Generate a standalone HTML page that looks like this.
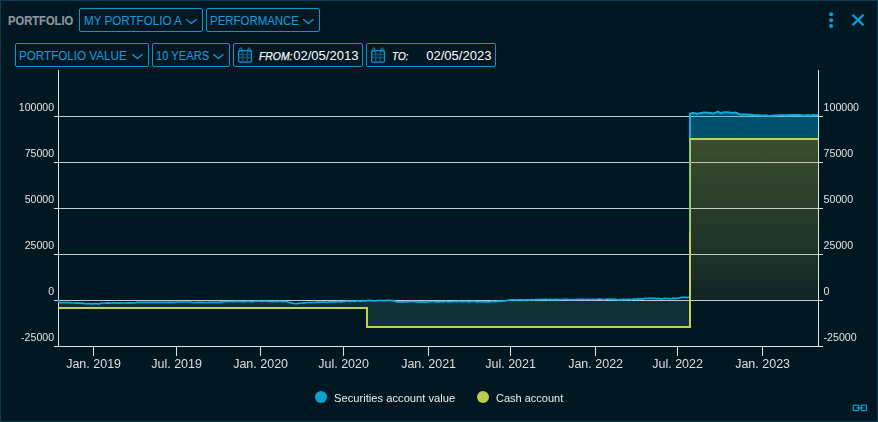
<!DOCTYPE html>
<html><head><meta charset="utf-8"><title>Portfolio</title>
<style>
html,body{margin:0;padding:0;background:#011721;}
body{width:878px;height:422px;overflow:hidden;font-family:"Liberation Sans",sans-serif;}
.panel{position:relative;width:878px;height:422px;box-sizing:border-box;border:1px solid #0b3c50;background:#011721;overflow:hidden;}
.abs{position:absolute;left:-1px;top:-1px;width:878px;height:422px;}
.t{position:absolute;white-space:pre;line-height:1;transform-origin:0 50%;display:inline-block;}
.title{color:#8f9499;font-weight:bold;-webkit-text-stroke:0.2px #8f9499;}
.dd{color:#1a99d5;-webkit-text-stroke:0.1px #1a99d5;}
.lbl{color:#f6f6f6;font-style:italic;font-weight:normal;-webkit-text-stroke:0.25px #f6f6f6;}
.date{color:#ffffff;}
.leg{color:#eeeeee;}
.box{position:absolute;box-sizing:border-box;border:1px solid #0f93cb;border-radius:2px;height:24px;}
.ic{position:absolute;overflow:visible;}
.chart{position:absolute;left:0;top:68px;will-change:transform;}
.legend{position:absolute;left:300px;top:384px;width:280px;height:26px;will-change:transform;}
.dot{position:absolute;width:12px;height:12px;border-radius:50%;}
</style></head>
<body>
<div class="panel"><div class="abs">
<svg class="chart" width="878" height="312" viewBox="0 68 878 312"><defs><linearGradient id="gy" x1="0" y1="139" x2="0" y2="300.5" gradientUnits="userSpaceOnUse"><stop offset="0" stop-color="#c4d24f" stop-opacity="0.30"/><stop offset="1" stop-color="#c4d24f" stop-opacity="0.085"/></linearGradient></defs><g stroke="#c3cbd1" stroke-width="1" shape-rendering="crispEdges"><line x1="54" y1="116.5" x2="823" y2="116.5"/><line x1="54" y1="162.5" x2="823" y2="162.5"/><line x1="54" y1="208.5" x2="823" y2="208.5"/><line x1="54" y1="254.5" x2="823" y2="254.5"/><line x1="54" y1="300.5" x2="823" y2="300.5"/></g><clipPath id="cn"><rect x="58" y="301" width="633" height="28"/></clipPath><path d="M58.5,299.6 L59.0,302.6 L60.8,302.6 L62.7,302.6 L64.5,302.7 L66.3,302.6 L68.2,302.7 L70.0,302.7 L72.0,303.0 L73.8,303.0 L75.7,302.9 L77.5,303.1 L79.3,303.0 L81.2,303.1 L83.0,303.1 L84.5,303.7 L86.2,303.6 L87.9,303.6 L89.7,303.7 L91.4,303.8 L93.1,303.6 L94.8,303.6 L96.6,303.7 L98.3,303.8 L100.0,303.7 L101.5,303.0 L103.2,303.0 L104.8,303.0 L106.5,303.1 L108.2,302.9 L109.9,303.1 L111.5,303.0 L113.2,302.9 L114.9,302.9 L116.6,303.0 L118.2,303.1 L119.9,302.9 L121.6,303.0 L123.3,303.0 L125.0,303.0 L126.6,303.0 L128.3,302.9 L130.0,302.9 L131.7,302.9 L133.3,303.0 L135.0,303.0 L137.0,302.4 L138.7,302.4 L140.3,302.4 L142.0,302.4 L143.6,302.4 L145.3,302.3 L146.9,302.4 L148.6,302.4 L150.2,302.3 L151.9,302.4 L153.5,302.4 L155.2,302.4 L156.8,302.4 L158.5,302.3 L160.1,302.4 L161.8,302.3 L163.4,302.3 L165.1,302.4 L166.7,302.3 L168.4,302.3 L170.0,302.2 L171.7,302.3 L173.3,302.4 L175.0,302.3 L177.0,302.0 L178.6,302.0 L180.2,302.1 L181.9,302.0 L183.5,302.0 L185.1,302.0 L186.8,302.0 L188.4,302.0 L190.0,302.0 L192.0,302.4 L193.6,302.5 L195.3,302.5 L196.9,302.4 L198.6,302.4 L200.2,302.3 L201.9,302.4 L203.5,302.4 L205.2,302.5 L206.8,302.5 L208.5,302.4 L210.1,302.4 L211.8,302.4 L213.4,302.3 L215.1,302.4 L216.7,302.3 L218.4,302.3 L220.0,302.4 L223.0,301.7 L224.7,301.6 L226.4,301.7 L228.1,301.5 L229.8,301.5 L231.5,301.5 L233.2,301.6 L234.9,301.4 L236.6,301.4 L238.3,301.5 L240.0,301.4 L241.6,301.6 L243.2,301.6 L244.8,301.6 L246.4,301.2 L248.0,301.3 L249.6,301.3 L251.2,301.6 L252.9,301.7 L254.5,301.1 L256.1,301.2 L257.7,301.2 L259.3,301.2 L260.9,301.3 L262.5,301.4 L264.1,301.2 L265.7,301.0 L267.3,301.3 L268.9,301.3 L270.5,301.4 L272.1,301.6 L273.8,301.4 L275.4,301.3 L277.0,301.4 L278.6,301.4 L280.2,301.0 L281.8,301.6 L283.4,301.5 L285.0,301.3 L288.0,302.0 L290.0,302.7 L292.0,302.9 L294.0,303.5 L296.0,303.7 L298.0,303.4 L300.0,303.2 L302.0,303.0 L303.6,302.7 L305.2,303.0 L306.9,302.5 L308.5,302.5 L310.1,302.5 L311.8,302.4 L313.4,302.5 L315.0,302.5 L316.7,302.2 L318.3,302.1 L320.0,302.1 L321.7,302.0 L323.3,302.1 L325.0,301.8 L326.7,302.3 L328.3,302.1 L330.0,301.8 L331.7,301.8 L333.3,301.8 L335.0,301.8 L336.7,301.7 L338.3,301.4 L340.0,301.9 L341.7,301.9 L343.3,301.5 L345.0,301.5 L346.7,301.1 L348.3,301.1 L350.0,301.3 L351.7,301.2 L353.3,301.1 L355.0,301.4 L356.7,300.9 L358.3,300.8 L360.0,301.3 L361.7,301.0 L363.3,300.7 L365.0,300.9 L366.7,300.8 L368.3,300.4 L370.0,300.6 L371.6,300.6 L373.3,300.9 L374.9,300.8 L376.6,300.7 L378.2,300.4 L379.9,300.5 L381.5,300.3 L383.1,300.7 L384.8,300.6 L386.4,300.7 L388.1,300.4 L389.7,300.3 L391.4,300.7 L393.0,300.5 L396.0,301.6 L397.6,301.9 L399.2,301.9 L400.8,301.9 L402.4,301.9 L404.0,301.9 L405.6,301.5 L407.2,301.8 L408.8,301.7 L410.4,301.5 L412.0,301.5 L413.6,301.7 L415.2,301.7 L416.8,302.0 L418.4,302.2 L420.0,301.9 L421.6,301.8 L423.2,302.1 L424.8,302.2 L426.4,302.1 L428.0,301.7 L429.6,301.6 L431.2,301.6 L432.8,301.5 L434.4,301.5 L436.0,301.8 L437.6,301.9 L439.2,301.9 L440.8,301.6 L442.4,301.7 L444.0,301.8 L445.6,301.3 L447.2,301.7 L448.8,301.8 L450.4,301.7 L452.0,301.7 L453.6,301.5 L455.2,301.3 L456.8,301.6 L458.4,301.3 L460.0,301.4 L461.7,301.6 L463.3,301.7 L465.0,301.4 L466.7,301.4 L468.3,301.8 L470.0,301.7 L471.7,301.3 L473.3,301.3 L475.0,301.4 L476.7,301.9 L478.3,301.8 L480.0,301.4 L481.7,301.9 L483.3,302.0 L485.0,301.8 L486.7,301.7 L488.3,301.8 L490.0,301.8 L491.7,301.4 L493.3,301.2 L495.0,301.7 L496.7,301.4 L498.3,301.2 L500.0,301.0 L501.7,301.1 L503.3,300.7 L505.0,300.8 L506.7,300.6 L508.3,300.1 L510.0,300.1 L511.7,299.9 L513.3,299.9 L515.0,299.9 L516.7,300.0 L518.3,299.8 L520.0,299.9 L521.7,299.7 L523.3,300.1 L525.0,299.8 L526.7,299.8 L528.3,299.9 L530.0,300.0 L531.7,299.7 L533.3,300.0 L535.0,299.7 L536.6,299.7 L538.2,299.7 L539.8,299.7 L541.4,299.3 L543.0,299.6 L544.6,299.4 L546.2,299.3 L547.9,299.8 L549.5,299.4 L551.1,299.6 L552.7,299.7 L554.3,299.6 L555.9,299.4 L557.5,299.6 L559.1,299.6 L560.7,299.7 L562.3,299.3 L563.9,299.5 L565.5,299.3 L567.1,299.3 L568.8,299.6 L570.4,299.5 L572.0,299.5 L573.6,299.6 L575.2,299.7 L576.8,299.4 L578.4,299.5 L580.0,299.4 L581.7,299.4 L583.3,299.4 L585.0,299.5 L586.7,299.3 L588.3,299.3 L590.0,299.3 L591.7,299.6 L593.3,299.4 L595.0,299.5 L596.7,299.5 L598.3,299.1 L600.0,299.2 L601.7,299.3 L603.3,299.6 L605.0,299.5 L606.7,299.1 L608.3,299.2 L610.0,299.4 L611.7,299.2 L613.3,299.4 L615.0,299.3 L616.7,299.7 L618.3,299.8 L620.0,299.7 L621.7,299.9 L623.3,299.4 L625.0,299.7 L626.7,299.6 L628.3,299.2 L630.0,299.6 L631.7,299.6 L633.3,299.1 L635.0,299.2 L636.7,299.4 L638.3,298.9 L640.0,298.9 L641.7,299.1 L643.3,298.9 L645.0,298.4 L646.7,298.5 L648.3,298.4 L650.0,298.3 L651.7,298.3 L653.3,298.3 L655.0,298.4 L656.7,298.8 L658.3,298.4 L660.0,298.8 L661.7,298.8 L663.4,298.7 L665.1,298.4 L666.9,298.5 L668.6,298.7 L670.3,298.6 L672.0,298.5 L673.6,298.1 L675.2,298.5 L676.8,298.3 L678.4,298.2 L680.0,297.8 L681.6,297.4 L683.2,297.4 L684.8,297.2 L686.4,297.6 L688.0,297.3 L690.0,297.1 L690,327 L367,327 L367,308 L58.5,308 Z" fill="#0f3136" clip-path="url(#cn)"/><path d="M690,139 L818,139 L818,300.5 L690,300.5 Z" fill="url(#gy)"/><path d="M690.0,113.6 L691.5,113.2 L693.0,112.9 L695.0,113.3 L697.0,114.0 L699.0,113.4 L701.0,112.9 L702.5,112.8 L704.0,112.4 L705.7,112.7 L707.3,112.6 L709.0,112.9 L710.6,112.9 L712.1,113.4 L713.7,113.4 L715.7,112.6 L717.7,111.7 L719.3,112.5 L720.9,113.2 L722.9,112.5 L724.9,112.2 L726.5,112.2 L728.1,112.5 L729.7,112.6 L731.2,112.7 L732.8,112.9 L735.2,112.4 L737.2,113.1 L739.2,114.2 L740.8,114.4 L742.4,114.4 L744.0,114.5 L745.6,114.4 L747.2,114.4 L748.8,114.8 L750.4,114.8 L751.9,114.8 L753.5,115.3 L755.0,115.3 L756.8,115.3 L758.5,115.3 L760.2,115.4 L762.0,115.4 L763.6,115.7 L765.2,115.5 L766.8,115.6 L768.4,115.9 L770.0,116.0 L771.8,115.7 L773.5,115.5 L775.2,115.4 L777.0,115.4 L778.6,115.2 L780.2,115.2 L781.8,115.3 L783.4,115.2 L785.0,115.3 L786.7,115.4 L788.3,115.1 L790.0,115.2 L791.7,115.0 L793.3,115.1 L795.0,115.1 L796.7,115.0 L798.3,115.1 L800.0,115.1 L801.7,115.4 L803.3,115.4 L805.0,115.4 L806.8,115.2 L808.5,115.3 L810.2,115.4 L812.0,115.2 L813.5,115.0 L815.0,115.3 L816.5,115.2 L818.0,115.2 L818,139 L690,139 Z" fill="#00a8de" fill-opacity="0.4"/><g stroke="#dde2e6" stroke-width="1" shape-rendering="crispEdges"><line x1="58.5" y1="70" x2="58.5" y2="347"/><line x1="818.5" y1="70" x2="818.5" y2="347"/><line x1="54" y1="346.5" x2="823" y2="346.5"/><line x1="54" y1="116.5" x2="58" y2="116.5"/><line x1="819" y1="116.5" x2="823" y2="116.5"/><line x1="54" y1="162.5" x2="58" y2="162.5"/><line x1="819" y1="162.5" x2="823" y2="162.5"/><line x1="54" y1="208.5" x2="58" y2="208.5"/><line x1="819" y1="208.5" x2="823" y2="208.5"/><line x1="54" y1="254.5" x2="58" y2="254.5"/><line x1="819" y1="254.5" x2="823" y2="254.5"/><line x1="54" y1="300.5" x2="58" y2="300.5"/><line x1="819" y1="300.5" x2="823" y2="300.5"/><line x1="93.5" y1="347" x2="93.5" y2="356"/><line x1="176.5" y1="347" x2="176.5" y2="356"/><line x1="260.5" y1="347" x2="260.5" y2="356"/><line x1="343.5" y1="347" x2="343.5" y2="356"/><line x1="428.5" y1="347" x2="428.5" y2="356"/><line x1="510.5" y1="347" x2="510.5" y2="356"/><line x1="595.5" y1="347" x2="595.5" y2="356"/><line x1="677.5" y1="347" x2="677.5" y2="356"/><line x1="762.5" y1="347" x2="762.5" y2="356"/></g><path d="M58.5,299.6 L59.0,302.6 L60.8,302.6 L62.7,302.6 L64.5,302.7 L66.3,302.6 L68.2,302.7 L70.0,302.7 L72.0,303.0 L73.8,303.0 L75.7,302.9 L77.5,303.1 L79.3,303.0 L81.2,303.1 L83.0,303.1 L84.5,303.7 L86.2,303.6 L87.9,303.6 L89.7,303.7 L91.4,303.8 L93.1,303.6 L94.8,303.6 L96.6,303.7 L98.3,303.8 L100.0,303.7 L101.5,303.0 L103.2,303.0 L104.8,303.0 L106.5,303.1 L108.2,302.9 L109.9,303.1 L111.5,303.0 L113.2,302.9 L114.9,302.9 L116.6,303.0 L118.2,303.1 L119.9,302.9 L121.6,303.0 L123.3,303.0 L125.0,303.0 L126.6,303.0 L128.3,302.9 L130.0,302.9 L131.7,302.9 L133.3,303.0 L135.0,303.0 L137.0,302.4 L138.7,302.4 L140.3,302.4 L142.0,302.4 L143.6,302.4 L145.3,302.3 L146.9,302.4 L148.6,302.4 L150.2,302.3 L151.9,302.4 L153.5,302.4 L155.2,302.4 L156.8,302.4 L158.5,302.3 L160.1,302.4 L161.8,302.3 L163.4,302.3 L165.1,302.4 L166.7,302.3 L168.4,302.3 L170.0,302.2 L171.7,302.3 L173.3,302.4 L175.0,302.3 L177.0,302.0 L178.6,302.0 L180.2,302.1 L181.9,302.0 L183.5,302.0 L185.1,302.0 L186.8,302.0 L188.4,302.0 L190.0,302.0 L192.0,302.4 L193.6,302.5 L195.3,302.5 L196.9,302.4 L198.6,302.4 L200.2,302.3 L201.9,302.4 L203.5,302.4 L205.2,302.5 L206.8,302.5 L208.5,302.4 L210.1,302.4 L211.8,302.4 L213.4,302.3 L215.1,302.4 L216.7,302.3 L218.4,302.3 L220.0,302.4 L223.0,301.7 L224.7,301.6 L226.4,301.7 L228.1,301.5 L229.8,301.5 L231.5,301.5 L233.2,301.6 L234.9,301.4 L236.6,301.4 L238.3,301.5 L240.0,301.4 L241.6,301.6 L243.2,301.6 L244.8,301.6 L246.4,301.2 L248.0,301.3 L249.6,301.3 L251.2,301.6 L252.9,301.7 L254.5,301.1 L256.1,301.2 L257.7,301.2 L259.3,301.2 L260.9,301.3 L262.5,301.4 L264.1,301.2 L265.7,301.0 L267.3,301.3 L268.9,301.3 L270.5,301.4 L272.1,301.6 L273.8,301.4 L275.4,301.3 L277.0,301.4 L278.6,301.4 L280.2,301.0 L281.8,301.6 L283.4,301.5 L285.0,301.3 L288.0,302.0 L290.0,302.7 L292.0,302.9 L294.0,303.5 L296.0,303.7 L298.0,303.4 L300.0,303.2 L302.0,303.0 L303.6,302.7 L305.2,303.0 L306.9,302.5 L308.5,302.5 L310.1,302.5 L311.8,302.4 L313.4,302.5 L315.0,302.5 L316.7,302.2 L318.3,302.1 L320.0,302.1 L321.7,302.0 L323.3,302.1 L325.0,301.8 L326.7,302.3 L328.3,302.1 L330.0,301.8 L331.7,301.8 L333.3,301.8 L335.0,301.8 L336.7,301.7 L338.3,301.4 L340.0,301.9 L341.7,301.9 L343.3,301.5 L345.0,301.5 L346.7,301.1 L348.3,301.1 L350.0,301.3 L351.7,301.2 L353.3,301.1 L355.0,301.4 L356.7,300.9 L358.3,300.8 L360.0,301.3 L361.7,301.0 L363.3,300.7 L365.0,300.9 L366.7,300.8 L368.3,300.4 L370.0,300.6 L371.6,300.6 L373.3,300.9 L374.9,300.8 L376.6,300.7 L378.2,300.4 L379.9,300.5 L381.5,300.3 L383.1,300.7 L384.8,300.6 L386.4,300.7 L388.1,300.4 L389.7,300.3 L391.4,300.7 L393.0,300.5 L396.0,301.6 L397.6,301.9 L399.2,301.9 L400.8,301.9 L402.4,301.9 L404.0,301.9 L405.6,301.5 L407.2,301.8 L408.8,301.7 L410.4,301.5 L412.0,301.5 L413.6,301.7 L415.2,301.7 L416.8,302.0 L418.4,302.2 L420.0,301.9 L421.6,301.8 L423.2,302.1 L424.8,302.2 L426.4,302.1 L428.0,301.7 L429.6,301.6 L431.2,301.6 L432.8,301.5 L434.4,301.5 L436.0,301.8 L437.6,301.9 L439.2,301.9 L440.8,301.6 L442.4,301.7 L444.0,301.8 L445.6,301.3 L447.2,301.7 L448.8,301.8 L450.4,301.7 L452.0,301.7 L453.6,301.5 L455.2,301.3 L456.8,301.6 L458.4,301.3 L460.0,301.4 L461.7,301.6 L463.3,301.7 L465.0,301.4 L466.7,301.4 L468.3,301.8 L470.0,301.7 L471.7,301.3 L473.3,301.3 L475.0,301.4 L476.7,301.9 L478.3,301.8 L480.0,301.4 L481.7,301.9 L483.3,302.0 L485.0,301.8 L486.7,301.7 L488.3,301.8 L490.0,301.8 L491.7,301.4 L493.3,301.2 L495.0,301.7 L496.7,301.4 L498.3,301.2 L500.0,301.0 L501.7,301.1 L503.3,300.7 L505.0,300.8 L506.7,300.6 L508.3,300.1 L510.0,300.1 L511.7,299.9 L513.3,299.9 L515.0,299.9 L516.7,300.0 L518.3,299.8 L520.0,299.9 L521.7,299.7 L523.3,300.1 L525.0,299.8 L526.7,299.8 L528.3,299.9 L530.0,300.0 L531.7,299.7 L533.3,300.0 L535.0,299.7 L536.6,299.7 L538.2,299.7 L539.8,299.7 L541.4,299.3 L543.0,299.6 L544.6,299.4 L546.2,299.3 L547.9,299.8 L549.5,299.4 L551.1,299.6 L552.7,299.7 L554.3,299.6 L555.9,299.4 L557.5,299.6 L559.1,299.6 L560.7,299.7 L562.3,299.3 L563.9,299.5 L565.5,299.3 L567.1,299.3 L568.8,299.6 L570.4,299.5 L572.0,299.5 L573.6,299.6 L575.2,299.7 L576.8,299.4 L578.4,299.5 L580.0,299.4 L581.7,299.4 L583.3,299.4 L585.0,299.5 L586.7,299.3 L588.3,299.3 L590.0,299.3 L591.7,299.6 L593.3,299.4 L595.0,299.5 L596.7,299.5 L598.3,299.1 L600.0,299.2 L601.7,299.3 L603.3,299.6 L605.0,299.5 L606.7,299.1 L608.3,299.2 L610.0,299.4 L611.7,299.2 L613.3,299.4 L615.0,299.3 L616.7,299.7 L618.3,299.8 L620.0,299.7 L621.7,299.9 L623.3,299.4 L625.0,299.7 L626.7,299.6 L628.3,299.2 L630.0,299.6 L631.7,299.6 L633.3,299.1 L635.0,299.2 L636.7,299.4 L638.3,298.9 L640.0,298.9 L641.7,299.1 L643.3,298.9 L645.0,298.4 L646.7,298.5 L648.3,298.4 L650.0,298.3 L651.7,298.3 L653.3,298.3 L655.0,298.4 L656.7,298.8 L658.3,298.4 L660.0,298.8 L661.7,298.8 L663.4,298.7 L665.1,298.4 L666.9,298.5 L668.6,298.7 L670.3,298.6 L672.0,298.5 L673.6,298.1 L675.2,298.5 L676.8,298.3 L678.4,298.2 L680.0,297.8 L681.6,297.4 L683.2,297.4 L684.8,297.2 L686.4,297.6 L688.0,297.3 L690.0,297.1" fill="none" stroke="#10aee0" stroke-width="1.7" stroke-linejoin="round"/><path d="M690,297.1 L690.0,113.6 L691.5,113.2 L693.0,112.9 L695.0,113.3 L697.0,114.0 L699.0,113.4 L701.0,112.9 L702.5,112.8 L704.0,112.4 L705.7,112.7 L707.3,112.6 L709.0,112.9 L710.6,112.9 L712.1,113.4 L713.7,113.4 L715.7,112.6 L717.7,111.7 L719.3,112.5 L720.9,113.2 L722.9,112.5 L724.9,112.2 L726.5,112.2 L728.1,112.5 L729.7,112.6 L731.2,112.7 L732.8,112.9 L735.2,112.4 L737.2,113.1 L739.2,114.2 L740.8,114.4 L742.4,114.4 L744.0,114.5 L745.6,114.4 L747.2,114.4 L748.8,114.8 L750.4,114.8 L751.9,114.8 L753.5,115.3 L755.0,115.3 L756.8,115.3 L758.5,115.3 L760.2,115.4 L762.0,115.4 L763.6,115.7 L765.2,115.5 L766.8,115.6 L768.4,115.9 L770.0,116.0 L771.8,115.7 L773.5,115.5 L775.2,115.4 L777.0,115.4 L778.6,115.2 L780.2,115.2 L781.8,115.3 L783.4,115.2 L785.0,115.3 L786.7,115.4 L788.3,115.1 L790.0,115.2 L791.7,115.0 L793.3,115.1 L795.0,115.1 L796.7,115.0 L798.3,115.1 L800.0,115.1 L801.7,115.4 L803.3,115.4 L805.0,115.4 L806.8,115.2 L808.5,115.3 L810.2,115.4 L812.0,115.2 L813.5,115.0 L815.0,115.3 L816.5,115.2 L818.0,115.2" fill="none" stroke="#10aee0" stroke-width="2" stroke-linejoin="round"/><path d="M58.5,308.0 L367.0,308.0 L367.0,327.0 L690.0,327.0 L690.0,139.0 L818.0,139.0" fill="none" stroke="#c3d150" stroke-width="2" stroke-linejoin="miter"/><line x1="689.6" y1="140" x2="689.6" y2="232" stroke="#35b8a8" stroke-opacity="0.5" stroke-width="1.2"/><g font-family="Liberation Sans, sans-serif" font-size="10.6" fill="#e2e2e2"><text x="54.1" y="111" text-anchor="end">100000</text><text x="823.6" y="111">100000</text><text x="54.1" y="157" text-anchor="end">75000</text><text x="823.6" y="157">75000</text><text x="54.1" y="203" text-anchor="end">50000</text><text x="823.6" y="203">50000</text><text x="54.1" y="249" text-anchor="end">25000</text><text x="823.6" y="249">25000</text><text x="54.1" y="295" text-anchor="end">0</text><text x="823.6" y="295">0</text><text x="54.1" y="341" text-anchor="end">-25000</text><text x="823.6" y="341">-25000</text></g><g font-family="Liberation Sans, sans-serif" font-size="12.5" fill="#dedede" text-anchor="middle"><text x="93.6" y="368">Jan. 2019</text><text x="176.6" y="368">Jul. 2019</text><text x="260.6" y="368">Jan. 2020</text><text x="343.6" y="368">Jul. 2020</text><text x="428.6" y="368">Jan. 2021</text><text x="510.6" y="368">Jul. 2021</text><text x="595.6" y="368">Jan. 2022</text><text x="677.6" y="368">Jul. 2022</text><text x="762.6" y="368">Jan. 2023</text></g></svg>
<div class="header">
<span class="t title" style="left:8.4px;top:15.42px;font-size:12.5px;transform:scaleX(0.895);">PORTFOLIO</span>
<div class="box" style="left:79px;top:8px;width:124px"></div>
<span class="t dd" style="left:83.6px;top:15.42px;font-size:12.5px;transform:scaleX(0.93);">MY PORTFOLIO A</span>
<svg class="ic" style="left:185.2px;top:18px" width="13" height="7" viewBox="-1 -1 13 7"><path d="M0.6,0.6 L5.4,4.4 L10.2,0.6" fill="none" stroke="#1a99d5" stroke-width="1.3" stroke-linecap="round" stroke-linejoin="round"/></svg>
<div class="box" style="left:206px;top:8px;width:114px"></div>
<span class="t dd" style="left:209.7px;top:15.42px;font-size:12.5px;transform:scaleX(0.915);">PERFORMANCE</span>
<svg class="ic" style="left:302px;top:18px" width="13" height="7" viewBox="-1 -1 13 7"><path d="M0.6,0.6 L5.4,4.4 L10.2,0.6" fill="none" stroke="#1a99d5" stroke-width="1.3" stroke-linecap="round" stroke-linejoin="round"/></svg>
<svg class="ic" style="left:826px;top:10px" width="10" height="20" viewBox="0 0 10 20"><g fill="#0b9dd3"><circle cx="5.1" cy="4.2" r="2"/><circle cx="5.1" cy="10.2" r="2"/><circle cx="5.1" cy="16.1" r="2"/></g></svg>
<svg class="ic" style="left:850px;top:12px" width="16" height="16" viewBox="0 0 16 16"><path d="M2.55,2.75 L13.45,13.15 M13.45,2.75 L2.55,13.15" stroke="#0b9dd3" stroke-width="2.4" stroke-linecap="butt" fill="none"/></svg>
</div>
<div class="toolbar">
<div class="box" style="left:15px;top:43px;width:134px"></div>
<span class="t dd" style="left:19.2px;top:50.42px;font-size:12.5px;transform:scaleX(0.932);">PORTFOLIO VALUE</span>
<svg class="ic" style="left:131px;top:53px" width="13" height="7" viewBox="-1 -1 13 7"><path d="M0.6,0.6 L5.4,4.4 L10.2,0.6" fill="none" stroke="#1a99d5" stroke-width="1.3" stroke-linecap="round" stroke-linejoin="round"/></svg>
<div class="box" style="left:152px;top:43px;width:78px"></div>
<span class="t dd" style="left:155.6px;top:50.42px;font-size:12.5px;transform:scaleX(0.895);">10 YEARS</span>
<svg class="ic" style="left:212.1px;top:53px" width="13" height="7" viewBox="-1 -1 13 7"><path d="M0.6,0.6 L5.4,4.4 L10.2,0.6" fill="none" stroke="#1a99d5" stroke-width="1.3" stroke-linecap="round" stroke-linejoin="round"/></svg>
<div class="box" style="left:233px;top:43px;width:130px"></div>
<svg class="ic" style="left:238px;top:47px" width="15" height="16" viewBox="0 0 15 16"><g fill="none" stroke="#0f93cb"><rect x="0.6" y="3.6" width="12.9" height="11.4" rx="1" stroke-width="1.25"/><path d="M1,7.4H13 M1,10.6H13 M4.75,4.5V14.6 M9.25,4.5V14.6" stroke-width="1.5" stroke-opacity="0.52"/><path d="M1.7,5.2 V1.9 L2.8,0.6 L3.9,1.9 V5.2 M10,5.2 V1.9 L11.1,0.6 L12.2,1.9 V5.2" stroke-width="1"/></g></svg>
<span class="t lbl" style="left:259px;top:50.74px;font-size:10.7px;transform:scaleX(0.971);">FROM:</span>
<span class="t date" style="left:293.3px;top:49.00px;font-size:13px;transform:scaleX(1.0);">02/05/2013</span>
<div class="box" style="left:366px;top:43px;width:130px"></div>
<svg class="ic" style="left:371px;top:47px" width="15" height="16" viewBox="0 0 15 16"><g fill="none" stroke="#0f93cb"><rect x="0.6" y="3.6" width="12.9" height="11.4" rx="1" stroke-width="1.25"/><path d="M1,7.4H13 M1,10.6H13 M4.75,4.5V14.6 M9.25,4.5V14.6" stroke-width="1.5" stroke-opacity="0.52"/><path d="M1.7,5.2 V1.9 L2.8,0.6 L3.9,1.9 V5.2 M10,5.2 V1.9 L11.1,0.6 L12.2,1.9 V5.2" stroke-width="1"/></g></svg>
<span class="t lbl" style="left:392.4px;top:50.74px;font-size:10.7px;transform:scaleX(0.93);">TO:</span>
<span class="t date" style="left:426.3px;top:49.00px;font-size:13px;transform:scaleX(1.0);">02/05/2023</span>
</div>
<div class="legend">
<span class="dot" style="left:15px;top:7px;background:#0fa0d0"></span>
<span class="t leg" style="left:33.8px;top:8.69px;font-size:11px;transform:scaleX(1.017);">Securities account value</span>
<span class="dot" style="left:177px;top:7px;background:#bccb4f"></span>
<span class="t leg" style="left:196px;top:8.69px;font-size:11px;transform:scaleX(1.0);">Cash account</span>
</div>
<svg class="ic" style="left:852px;top:404px" width="16" height="8" viewBox="0 0 16 8"><g fill="none" stroke="#0b9dd3" stroke-width="1.3"><rect x="1.2" y="1.2" width="5.4" height="5.4" rx="1.2"/><rect x="9.2" y="1.2" width="5.4" height="5.4" rx="1.2"/><path d="M4.6,3.9H11.2"/></g></svg>
</div></div>
</body></html>
